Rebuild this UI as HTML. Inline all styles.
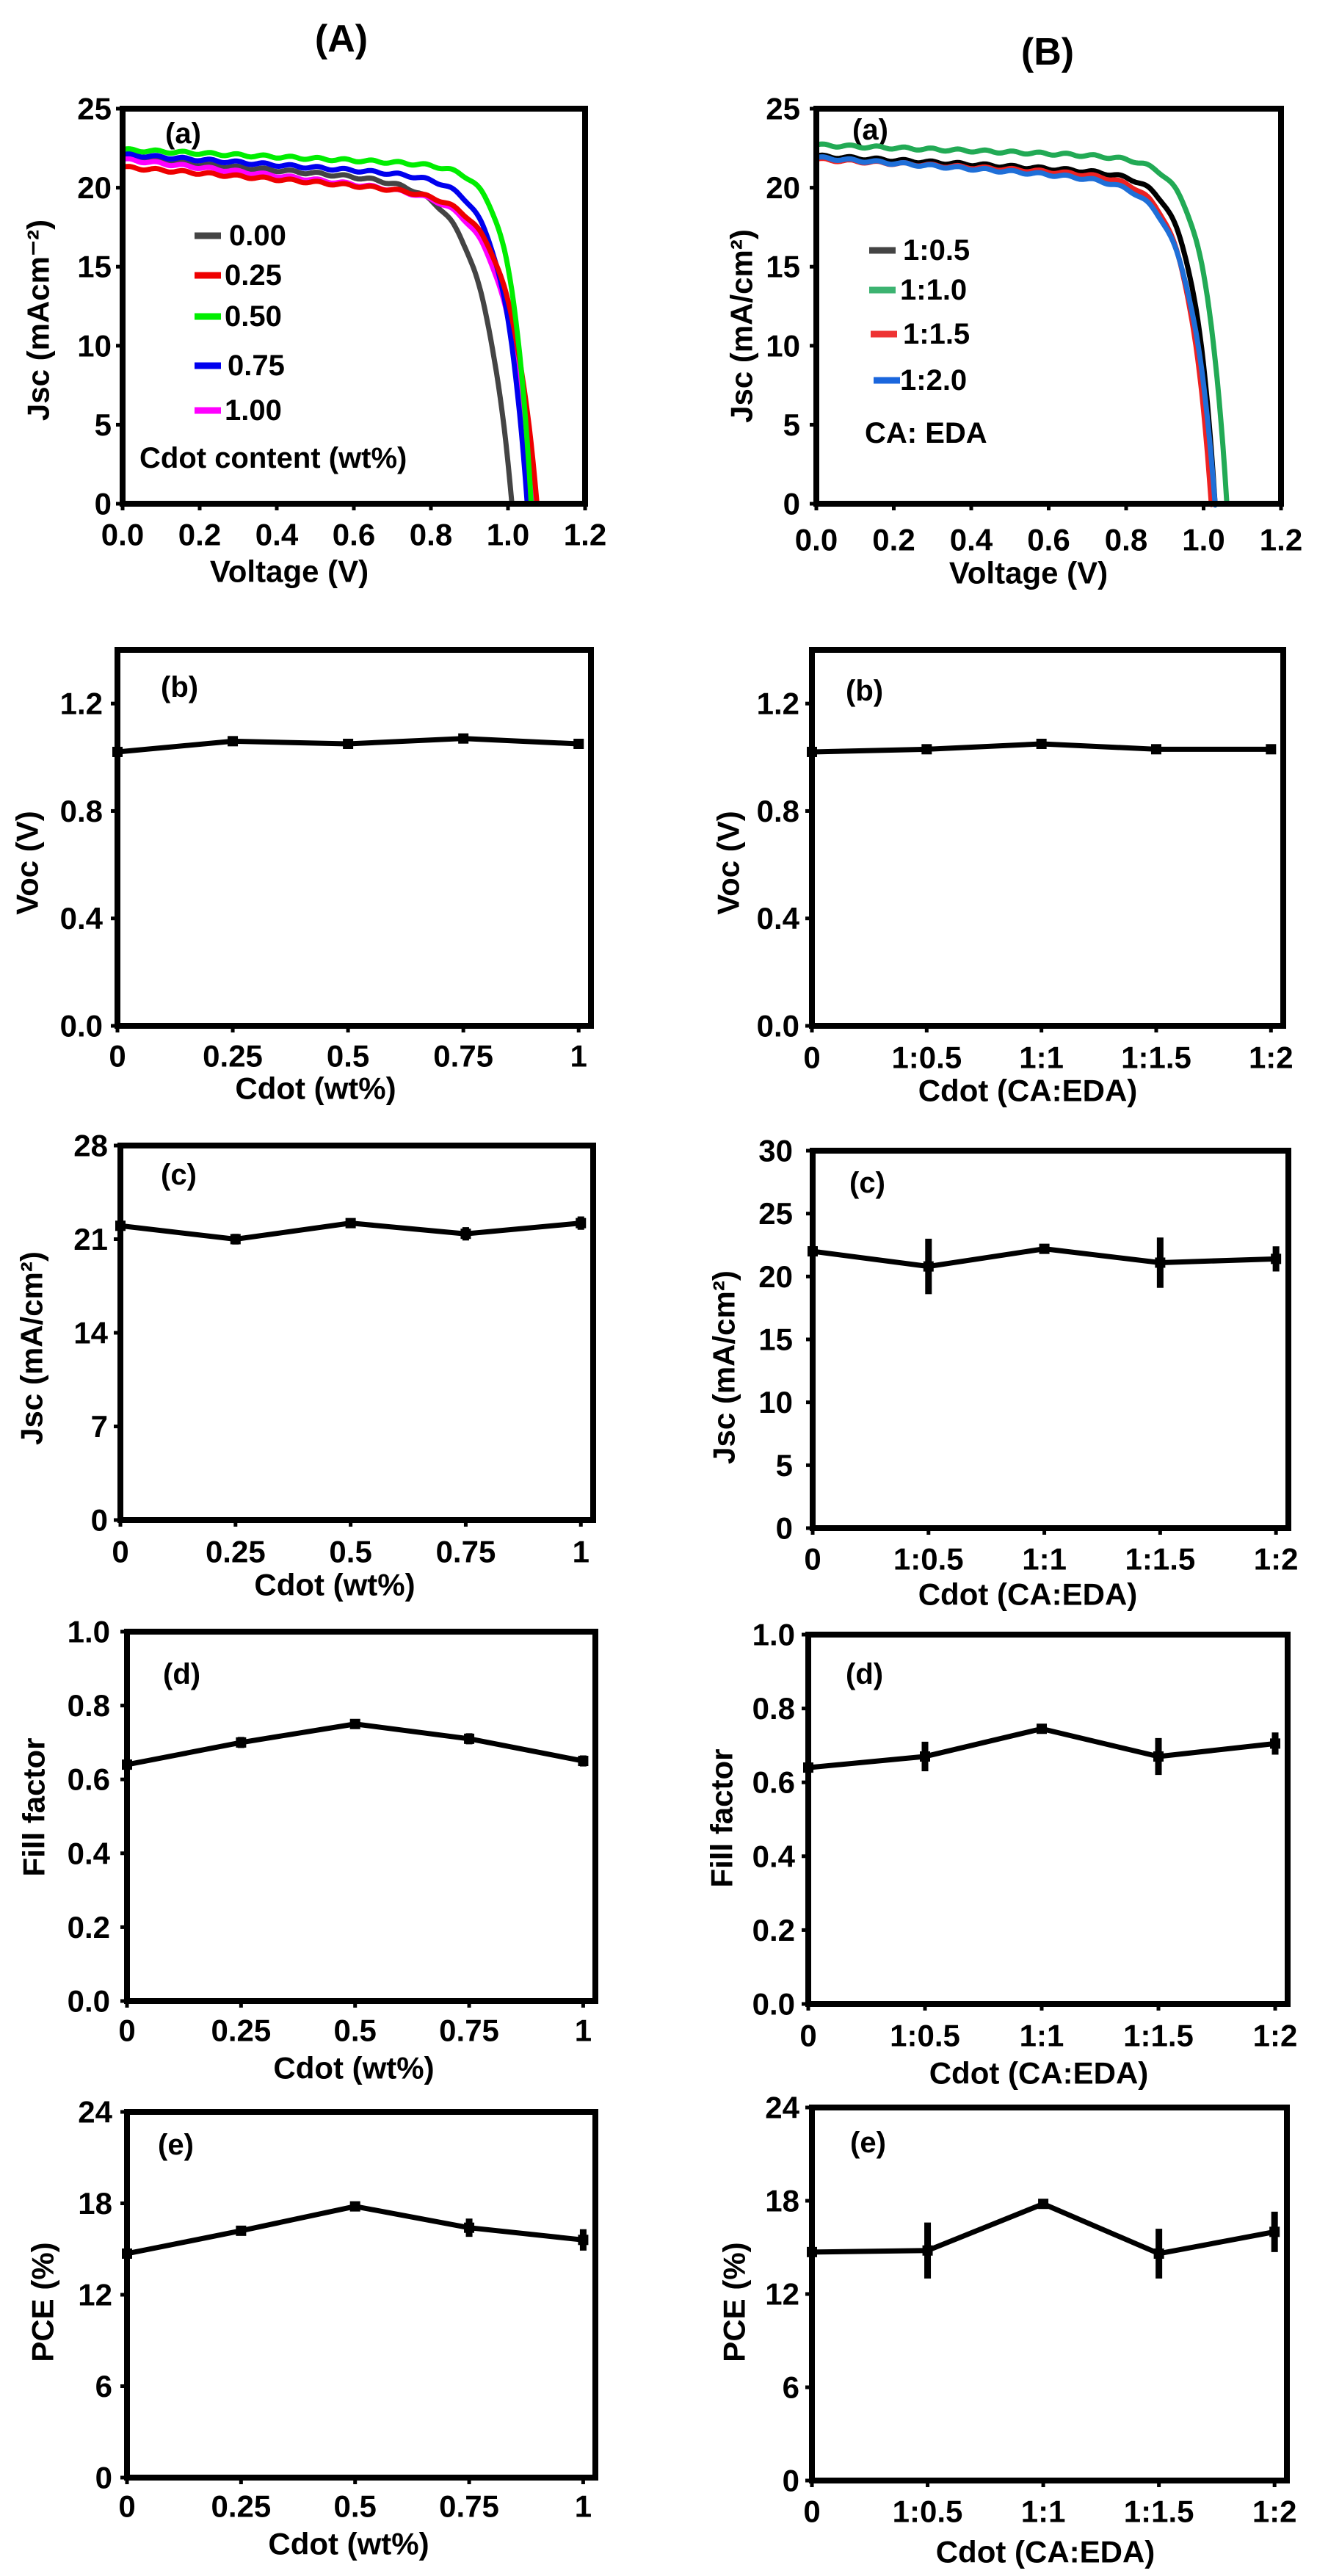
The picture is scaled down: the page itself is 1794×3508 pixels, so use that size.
<!DOCTYPE html>
<html><head><meta charset="utf-8"><style>
html,body{margin:0;padding:0;background:#fff;}
svg{display:block;font-family:"Liberation Sans",Arial,sans-serif;font-weight:bold;}
</style></head><body>
<svg id="s" width="1794" height="3508" viewBox="0 0 1794 3508" xmlns="http://www.w3.org/2000/svg">
<rect width="1794" height="3508" fill="#fff"/>
<text x="465" y="70" font-size="52" text-anchor="middle">(A)</text>
<text x="1427" y="88" font-size="52" text-anchor="middle">(B)</text>
</svg>
<script>
var S=document.getElementById('s'),NS='http://www.w3.org/2000/svg';
function el(t,a,txt){var e=document.createElementNS(NS,t);for(var k in a)e.setAttribute(k,a[k]);if(txt!==undefined)e.textContent=txt;S.appendChild(e);return e;}
function txt(x,y,s,sz,anc,rot){var a={x:x,y:y,'font-size':sz,'text-anchor':anc||'middle','dominant-baseline':'central'};if(rot)a.transform='rotate(-90 '+x+' '+y+')';el('text',a,s);}
function panel(c){
  var X=function(v){return c.x0+(v-c.xmin)/(c.xmax-c.xmin)*(c.x1-c.x0);};
  var Y=function(v){return c.y1-(v-c.ymin)/(c.ymax-c.ymin)*(c.y1-c.y0);};
  c.X=X;c.Y=Y;
  c.yt.forEach(function(v,i){var y=Y(v);el('line',{x1:c.x0-9,y1:y,x2:c.x0,y2:y,stroke:'#000','stroke-width':5});
    txt(c.ytr,y,c.ytl?c.ytl[i]:String(v),42,'end');});
  c.xt.forEach(function(v,i){var x=X(v);el('line',{x1:x,y1:c.y1,x2:x,y2:c.y1+9,stroke:'#000','stroke-width':5});
    txt(x+(c.xoff?c.xoff[i]:0),c.xty,c.xtl[i],42,'middle');});
  txt(c.xlx,c.xly,c.xl,42,'middle');
  txt(c.ylx,c.yly,c.yl,42,'middle',true);
  txt(c.tx,c.ty,c.tag,40,'start');
  return c;
}
function frame(c){el('rect',{x:c.x0,y:c.y0,width:c.x1-c.x0,height:c.y1-c.y0,fill:'none',stroke:'#000','stroke-width':8});}
function series(c,vals,errs){
  var pts=vals.map(function(v,i){return [c.X(i),c.Y(v)];});
  el('polyline',{points:pts.map(function(p){return p.join(',')}).join(' '),fill:'none',stroke:'#000','stroke-width':7,'stroke-linejoin':'round'});
  pts.forEach(function(p,i){
    el('rect',{x:p[0]-7,y:p[1]-7,width:14,height:14,fill:'#000'});
    var e=errs?errs[i]:0;
    if(e){var a=c.Y(vals[i]+e),b=c.Y(vals[i]-e);
      el('line',{x1:p[0],y1:a,x2:p[0],y2:b,stroke:'#000','stroke-width':9});}
  });
}
function jv(c,Jsc,Voc,m,n,col){
  var k=Jsc*(1-m*Voc)/(Math.exp(Voc/n)-1),pts=[];
  for(var V=0;V<=Voc+1e-9;V+=0.005){
    var J=Jsc*(1-m*V)-k*(Math.exp(V/n)-1);if(J<0)J=0;
    J+=Math.sin(V*90)*0.08;
    pts.push(c.X(V).toFixed(1)+','+c.Y(J).toFixed(1));}
  pts.push(c.X(Voc).toFixed(1)+','+c.Y(0).toFixed(1));
  el('polyline',{points:pts.join(' '),fill:'none',stroke:col,'stroke-width':7,'stroke-linejoin':'round'});
}
function legend(x,y,col,label,lx){el('line',{x1:x,y1:y,x2:x+36,y2:y,stroke:col,'stroke-width':9});txt(lx,y,label,40,'start');}

var vt=['0.0','0.2','0.4','0.6','0.8','1.0','1.2'];
// A(a)
var a=panel({x0:167,x1:797,y0:148,y1:686,xmin:0,xmax:1.2,ymin:0,ymax:25,yt:[0,5,10,15,20,25],ytr:152,
  xt:[0,.2,.4,.6,.8,1,1.2],xtl:vt,xty:728,xl:'Voltage (V)',xlx:394,xly:778,yl:'Jsc  (mAcm\u207B\u00B2)',ylx:52,yly:436,tag:'(a)',tx:225,ty:182});
jv(a,21.8,1.01,0.08,0.075,'#444');
jv(a,21.8,1.065,0.12,0.07,'#ff00ff');
jv(a,22.1,1.05,0.075,0.06,'#0000ee');
jv(a,21.3,1.075,0.09,0.07,'#ee0000');
jv(a,22.4,1.06,0.05,0.05,'#00ee00');
frame(a);
legend(265,321,'#444','0.00',312);legend(265,375,'#ee0000','0.25',306);legend(265,431,'#00ee00','0.50',306);
legend(265,498,'#0000ee','0.75',310);legend(265,559,'#ff00ff','1.00',306);
txt(190,624,'Cdot content (wt%)',40,'start');
// B(a)
var b=panel({x0:1112,x1:1745,y0:148,y1:686,xmin:0,xmax:1.2,ymin:0,ymax:25,yt:[0,5,10,15,20,25],ytr:1090,
  xt:[0,.2,.4,.6,.8,1,1.2],xtl:vt,xty:735,xl:'Voltage (V)',xlx:1401,xly:780,yl:'Jsc (mA/cm\u00B2)',ylx:1010,yly:444,tag:'(a)',tx:1161,ty:177});
jv(b,22.0,1.03,0.06,0.055,'#000');
jv(b,21.8,1.02,0.06,0.06,'#ee2222');
jv(b,21.9,1.03,0.08,0.065,'#1f6fd8');
jv(b,22.7,1.06,0.04,0.055,'#22aa55');
frame(b);
legend(1184,341,'#444','1:0.5',1230);legend(1184,395,'#3cb371','1:1.0',1226);legend(1186,455,'#ee3333','1:1.5',1230);legend(1190,518,'#1a66dd','1:2.0',1226);
txt(1178,590,'CA: EDA',40,'start');

function cat(o){var c=panel(o);return c;}
var wl=['0','0.25','0.5','0.75','1'],cl=['0','1:0.5','1:1','1:1.5','1:2'];
function mk(x0,x1,y0,y1,ymax,yt,ytl,ytr,xl,xtl,xty,xlx,xly,yl,ylx,yly,tag,tx,ty){
  return panel({x0:x0,x1:x1,y0:y0,y1:y1,xmin:0,xmax:4/0.974,ymin:0,ymax:ymax,yt:yt,ytl:ytl,ytr:ytr,
   xt:[0,1,2,3,4],xtl:xtl,xty:xty,xl:xl,xlx:xlx,xly:xly,yl:yl,ylx:ylx,yly:yly,tag:tag,tx:tx,ty:ty});
}
// row b
var p;
p=mk(160,805,885,1397,1.4,[0,.4,.8,1.2],['0.0','0.4','0.8','1.2'],140,'Cdot (wt%)',wl,1438,430,1482,'Voc (V)',37,1175,'(b)',219,936);
series(p,[1.02,1.06,1.05,1.07,1.05]);frame(p);
p=mk(1106,1748,885,1397,1.4,[0,.4,.8,1.2],['0.0','0.4','0.8','1.2'],1089,'Cdot (CA:EDA)',cl,1440,1400,1485,'Voc (V)',992,1175,'(b)',1152,941);
series(p,[1.02,1.03,1.05,1.03,1.03],[0,.015,0,.015,.015]);frame(p);
// row c
p=mk(164,808,1560,2070,28,[0,7,14,21,28],null,147,'Cdot (wt%)',wl,2113,456,2158,'Jsc (mA/cm\u00B2)',43,1836,'(c)',219,1600);
series(p,[22.0,21.0,22.2,21.4,22.2],[0,.4,0,.5,.5]);frame(p);
p=mk(1107,1755,1567,2081,30,[0,5,10,15,20,25,30],null,1080,'Cdot (CA:EDA)',cl,2123,1400,2171,'Jsc (mA/cm\u00B2)',986,1862,'(c)',1157,1611);
series(p,[22,20.8,22.2,21.1,21.4],[0,2.2,0,2,1]);frame(p);
// row d
var ft=[0,.2,.4,.6,.8,1],ftl=['0.0','0.2','0.4','0.6','0.8','1.0'];
p=mk(173,811,2222,2725,1,ft,ftl,150,'Cdot (wt%)',wl,2765,482,2816,'Fill factor',46,2461,'(d)',222,2280);
series(p,[0.64,0.70,0.75,0.71,0.65],[0,.015,0,.015,.015]);frame(p);
p=mk(1101,1754,2226,2729,1,ft,ftl,1083,'Cdot (CA:EDA)',cl,2772,1415,2823,'Fill factor',983,2476,'(d)',1152,2280);
series(p,[0.64,0.67,0.745,0.67,0.705],[0,.04,0,.05,.03]);frame(p);
// row e
p=mk(173,811,2876,3374,24,[0,6,12,18,24],null,153,'Cdot (wt%)',wl,3413,475,3464,'PCE  (%)',58,3135,'(e)',215,2921);
series(p,[14.7,16.2,17.8,16.4,15.6],[0,.3,0,.6,.7]);frame(p);
p=mk(1106,1753,2870,3378,24,[0,6,12,18,24],null,1089,'Cdot (CA:EDA)',cl,3420,1424,3475,'PCE  (%)',1000,3135,'(e)',1158,2918);
series(p,[14.7,14.8,17.8,14.6,16.0],[0,1.8,0,1.6,1.3]);frame(p);
</script>
</body></html>
